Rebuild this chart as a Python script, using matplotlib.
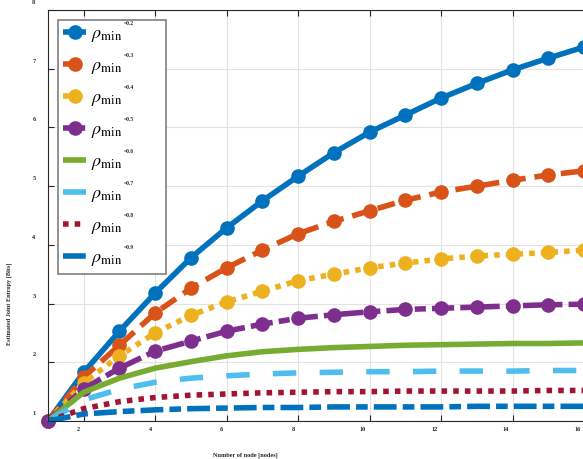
import matplotlib
matplotlib.use('Agg')
import matplotlib.pyplot as plt
import matplotlib.transforms as mtransforms
from matplotlib.patches import Rectangle

# Данные: число узлов и энтропия для каждого rho_min
nodes = list(range(1, 17))
rho_vals = ['0.2', '0.3', '0.4', '0.5', '0.6', '0.7', '0.8', '0.9']

ent_02 = [1.0, 1.83, 2.53, 3.18, 3.78, 4.29, 4.75, 5.17, 5.57, 5.92, 6.21, 6.50, 6.75, 6.98, 7.18, 7.37]
ent_03 = [1.0, 1.75, 2.29, 2.84, 3.26, 3.61, 3.91, 4.19, 4.40, 4.58, 4.76, 4.90, 5.00, 5.10, 5.19, 5.26]
ent_04 = [1.0, 1.65, 2.11, 2.50, 2.80, 3.03, 3.21, 3.39, 3.50, 3.61, 3.69, 3.76, 3.81, 3.84, 3.87, 3.91]
ent_05 = [1.0, 1.55, 1.90, 2.19, 2.36, 2.53, 2.65, 2.75, 2.81, 2.86, 2.90, 2.92, 2.94, 2.96, 2.98, 2.99]
ent_06 = [1.0, 1.49, 1.73, 1.90, 2.01, 2.11, 2.18, 2.22, 2.25, 2.27, 2.29, 2.30, 2.31, 2.32, 2.32, 2.33]
ent_07 = [1.0, 1.36, 1.54, 1.66, 1.73, 1.77, 1.80, 1.82, 1.83, 1.84, 1.84, 1.85, 1.85, 1.85, 1.86, 1.86]
ent_08 = [1.0, 1.21, 1.33, 1.40, 1.44, 1.46, 1.48, 1.49, 1.50, 1.50, 1.51, 1.51, 1.51, 1.51, 1.52, 1.52]
ent_09 = [1.0, 1.12, 1.16, 1.19, 1.21, 1.22, 1.23, 1.23, 1.24, 1.24, 1.24, 1.24, 1.25, 1.25, 1.25, 1.25]

series = [ent_02, ent_03, ent_04, ent_05, ent_06, ent_07, ent_08, ent_09]
colors = ['#0072BD', '#D95319', '#EDB120', '#7E2F8E', '#77AC30', '#4DBEEE', '#A2142F', '#0072BD']
styles = [(0, ()), (0, (3.2, 1.6)), (0, (1, 1.1)), (0, (4, 1.1, 2, 1.1)),
          (0, ()), (0, (4.2, 4.2)), (0, (1, 1.1)), (0, (4.1, 1.1, 2.1, 1.1))]
markers = ['o', 'o', 'o', 'o', None, None, None, None]

plt.rcParams['font.family'] = 'Liberation Serif'
plt.rcParams['mathtext.fontset'] = 'stix'

W, H = 583, 459
fig = plt.figure(figsize=(W / 100, H / 100), dpi=100)
# ось выходит за правый край картинки (как в исходнике)
ax = fig.add_axes([48 / W, (H - 421) / H, 679 / W, 411 / H])

for ys, c, ls, m in zip(series, colors, styles, markers):
    ax.plot(nodes, ys, color=c, linestyle=ls, lw=4, marker=m, markersize=9.5,
            label=r'$\rho_{\rm min}$', clip_on=False)

ax.set_xlim(1, 20)
ax.set_ylim(1, 8)
ax.set_xticks(range(2, 17, 2))
ax.set_yticks(range(1, 9))
ax.grid(True, color='#e3e3e3', lw=0.8)
ax.set_axisbelow(True)
for s in ax.spines.values():
    s.set_color('#262626')
    s.set_linewidth(0.8)
ax.tick_params(direction='in', length=4, width=0.8, top=True, right=True,
               labelsize=4.5, colors='#262626')
ax.tick_params(axis='y', pad=9)
ax.tick_params(axis='x', pad=4)
for lab in ax.get_yticklabels():
    lab.set_fontweight('bold')
    lab.set_transform(lab.get_transform() + mtransforms.ScaledTranslation(0, 0.08, fig.dpi_scale_trans))
for lab in ax.get_xticklabels():
    lab.set_fontweight('bold')
    lab.set_horizontalalignment('right')
    lab.set_transform(lab.get_transform() + mtransforms.ScaledTranslation(-0.035, 0, fig.dpi_scale_trans))

ax.set_xlabel('Number of node [nodes]', fontsize=4.5, fontweight='bold', color='#262626')
ax.set_ylabel('Estimated Joint Entropy [Bits]', fontsize=4.5, fontweight='bold', color='#262626')
ax.xaxis.set_label_coords((245 - 48) / 679, (421 - 452) / 411)
ax.yaxis.set_label_coords((12 - 48) / 679, (421 - 304) / 411)

leg = ax.legend(loc='upper left', bbox_to_anchor=(10 / 679, (421 - 20) / 411),
                borderaxespad=0, fontsize=13, handlelength=1.25, handletextpad=0.3,
                labelspacing=0.72, borderpad=0.3, fancybox=False, framealpha=1)

# рамка легенды шире, чем сама легенда (как в исходнике)
fig.canvas.draw()
lbb = leg.get_window_extent()
leg.set_frame_on(False)
frame = Rectangle((lbb.x0, lbb.y0), 108, lbb.height, transform=mtransforms.IdentityTransform(),
                  facecolor='white', edgecolor='#7f7f7f', lw=1.2, zorder=4.9)
ax.add_patch(frame)

# подписи "=0.x" мелким шрифтом над каждой строкой легенды
for t, r in zip(leg.get_texts(), rho_vals):
    bb = t.get_window_extent()
    fig.text((lbb.x0 + 66) / W, ((bb.y0 + bb.y1) / 2 + 12) / H, '=' + r,
             fontsize=4, fontweight='bold', va='center', ha='left', color='#262626')

fig.savefig('out.png', dpi=100)
